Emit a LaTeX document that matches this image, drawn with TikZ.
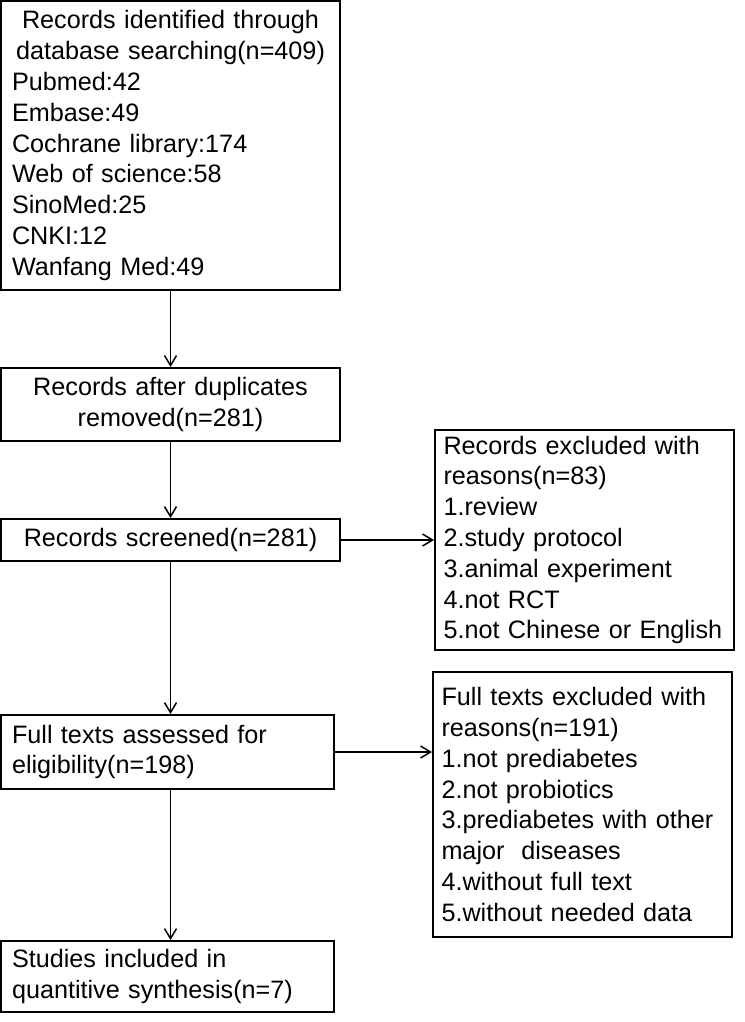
\documentclass[tikz,border=0pt]{standalone}
\usepackage{fontspec}
\setmainfont{Liberation Sans}
\usetikzlibrary{arrows.meta}

\tikzset{
  flowbox/.style={draw, line width=1pt, inner xsep=5.5pt, inner ysep=0pt,
    font=\fontsize{12.6pt}{15.4pt}\selectfont},
  reasonbox/.style={flowbox, inner xsep=4.25pt, align=left, text width=141pt,
    minimum width=149.5pt},
  flowarrow/.style={line width=0.75pt, -{Straight Barb[length=5pt,width=6pt]}}
}

\begin{document}
\begin{tikzpicture}[x=0.5pt, y=-0.5pt]
  \useasboundingbox (0,0) rectangle (744,1022);

  \node[flowbox, align=left, text width=158.5pt, minimum width=169.5pt, minimum height=144.5pt]
    (ident) at (170.5,145.5)
    {\makebox[\hsize]{Records identified through}\\
     \makebox[\hsize]{database searching(n=409)}\\
     Pubmed:42\\
     Embase:49\\
     Cochrane library:174\\
     Web of science:58\\
     SinoMed:25\\
     CNKI:12\\
     Wanfang Med:49};

  \node[flowbox, align=center, text width=158.5pt, minimum width=169.5pt, minimum height=36.5pt]
    (dup) at (170.5,404.5) {Records after duplicates\\ removed(n=281)};

  \node[flowbox, align=center, text width=158.5pt, minimum width=169.5pt, minimum height=21pt]
    (screen) at (170.5,540) {Records screened(n=281)};

  \node[reasonbox, minimum height=110pt] (excl) at (584.5,540)
    {Records excluded with\\
     reasons(n=83)\\
     1.review\\
     2.study protocol\\
     3.animal experiment\\
     4.not RCT\\
     5.not Chinese or English};

  \node[flowbox, align=left, text width=155.5pt, minimum width=166.5pt, minimum height=37pt]
    (full) at (167.5,752) {Full texts assessed for\\ eligibility(n=198)};

  \node[reasonbox, minimum height=132.5pt] (fullexcl) at (582.5,804.5)
    {Full texts excluded with\\
     reasons(n=191)\\
     1.not prediabetes\\
     2.not probiotics\\
     3.prediabetes with other\\
     major\ \ diseases\\
     4.without full text\\
     5.without needed data};

  \node[flowbox, align=left, text width=155.5pt, minimum width=166.5pt, minimum height=35.5pt]
    (incl) at (167.5,976.5) {Studies included in\\ quantitive synthesis(n=7)};

  \draw[flowarrow] (ident.south) -- (dup.north);
  \draw[flowarrow] (dup.south) -- (screen.north);
  \draw[flowarrow] (screen.east) -- (screen.east -| excl.west);
  \draw[flowarrow] (screen.south) -- (screen.south |- full.north);
  \draw[flowarrow] (full.east) -- (full.east -| fullexcl.west);
  \draw[flowarrow] (screen.south |- full.south) -- (screen.south |- incl.north);
\end{tikzpicture}
\end{document}
